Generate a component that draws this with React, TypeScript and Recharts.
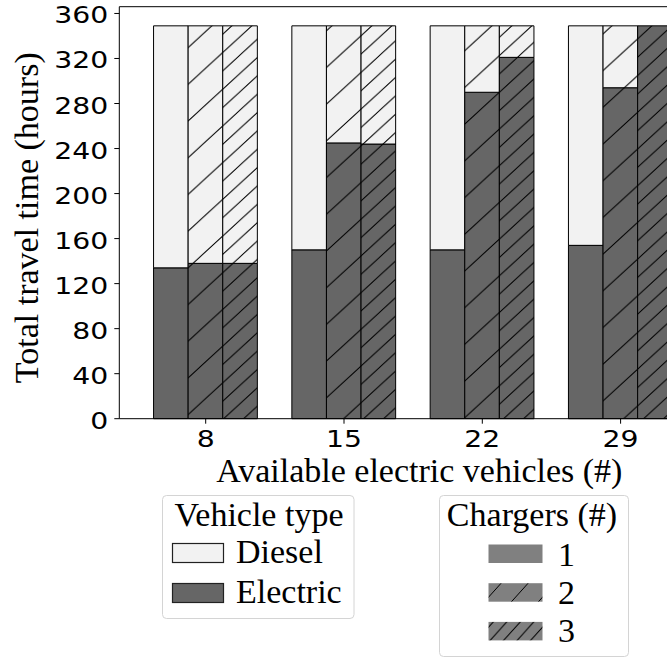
import { BarChart, Bar, XAxis, YAxis, ReferenceLine, Label } from "recharts";

const categories = ["8", "15", "22", "29"];
// electric part of each bar, one list per number of chargers
const electric1 = [134, 150, 150, 154];
const electric2 = [138, 245, 290, 294];
const electric3 = [138, 244, 321, 349];
// diesel part stacked on top
const diesel1 = [215, 199, 199, 195];
const diesel2 = [211, 104, 59, 55];
const diesel3 = [211, 105, 28, 0];
const yTicks = [0, 40, 80, 120, 160, 200, 240, 280, 320, 360];
const vehicleTypes = ["Diesel", "Electric"];
const chargerCounts = ["1", "2", "3"];

const DIESEL = "#f2f2f2";
const ELECTRIC = "#666666";
const PATCH = "#808080";
const SERIF = "'Liberation Serif', 'Times New Roman', serif";
const SANS = "'DejaVu Sans', sans-serif";

const data = categories.map((name, i) => ({
  name,
  e1: electric1[i],
  d1: diesel1[i],
  e2: electric2[i],
  d2: diesel2[i],
  e3: electric3[i],
  d3: diesel3[i],
}));

// diagonal "/" hatch, w = horizontal spacing, h = vertical spacing
function Hatch({ id, bg, w, h }: { id: string; bg: string; w: number; h: number }) {
  return (
    <pattern id={id} patternUnits="userSpaceOnUse" width={w} height={h}>
      <rect width={w} height={h} fill={bg} />
      <path
        d={`M${-w / 2},${h / 2} L${w / 2},${-h / 2} M0,${h} L${w},0 M${w / 2},${h * 1.5} L${w * 1.5},${h / 2}`}
        stroke="#000"
        strokeWidth={1}
      />
    </pattern>
  );
}

function YTick({ x, y, payload }: any) {
  return (
    <g transform={`translate(${x},${y})`}>
      <text x={0} y={0} dy={10} textAnchor="end" transform="scale(1.23,1)" fontFamily={SANS} fontSize={23} fill="#000">
        {payload.value}
      </text>
    </g>
  );
}

function XTick({ x, y, payload }: any) {
  return (
    <g transform={`translate(${x},${y})`}>
      <text x={0} y={0} dy={17} textAnchor="middle" transform="scale(1.23,1)" fontFamily={SANS} fontSize={23} fill="#000">
        {payload.value}
      </text>
    </g>
  );
}

function Legends() {
  const vehicleFill: Record<string, string> = { Diesel: DIESEL, Electric: ELECTRIC };
  const chargerFill: Record<string, string> = { "1": PATCH, "2": "url(#lg-h2)", "3": "url(#lg-h3)" };
  return (
    <svg width={667} height={658} style={{ position: "absolute", left: 0, top: 0, pointerEvents: "none" }}>
      <defs>
        <Hatch id="lg-h2" bg={PATCH} w={27} h={30} />
        <Hatch id="lg-h3" bg={PATCH} w={13.5} h={15} />
      </defs>
      {/* Vehicle type */}
      <rect x={162.5} y={495.5} width={191.5} height={123} rx={4} fill="#fff" stroke="#d4d4d4" strokeWidth={1} />
      <text x={259} y={526} textAnchor="middle" fontFamily={SERIF} fontSize={34}>Vehicle type</text>
      {vehicleTypes.map((v, i) => (
        <g key={v}>
          <rect x={172.5} y={543.5 + 40 * i} width={51} height={19} fill={vehicleFill[v]} stroke="#222" strokeWidth={1.2} />
          <text x={236} y={563 + 40 * i} fontFamily={SERIF} fontSize={34}>{v}</text>
        </g>
      ))}
      {/* Chargers */}
      <rect x={439.5} y={495.5} width={189} height={161} rx={4} fill="#fff" stroke="#d4d4d4" strokeWidth={1} />
      <text x={532} y={526} textAnchor="middle" fontFamily={SERIF} fontSize={34}>Chargers (#)</text>
      {chargerCounts.map((c, i) => (
        <g key={c}>
          <rect x={488.5} y={544.5 + 38.7 * i} width={54} height={18.5} fill={chargerFill[c]} />
          <text x={558} y={566 + 38 * i} fontFamily={SERIF} fontSize={34}>{c}</text>
        </g>
      ))}
    </svg>
  );
}

export default function App() {
  return (
    <div style={{ position: "absolute", left: 0, top: 0, width: 667, height: 658, overflow: "hidden", background: "#fff" }}>
      <BarChart
        width={720}
        height={658}
        data={data}
        margin={{ top: 6.7, right: 13, bottom: 179.3, left: 0 }}
        barGap={0}
        barSize={34.6}
      >
        <defs>
          <Hatch id="h-e-2" bg={ELECTRIC} w={40} h={36.7} />
          <Hatch id="h-d-2" bg={DIESEL} w={40} h={36.7} />
          <Hatch id="h-e-3" bg={ELECTRIC} w={20} h={18.35} />
          <Hatch id="h-d-3" bg={DIESEL} w={20} h={18.35} />
        </defs>
        <XAxis
          dataKey="name"
          height={60}
          padding={{ left: 17.25, right: 17.25 }}
          stroke="#000"
          tickSize={5}
          tickMargin={6}
          tick={<XTick />}
        >
          <Label
            content={(props: any) => {
              const vb = props.viewBox;
              return (
                <text x={vb.x + 300} y={vb.y + 63.5} textAnchor="middle" fontFamily={SERIF} fontSize={34} fill="#000">
                  Available electric vehicles (#)
                </text>
              );
            }}
          />
        </XAxis>
        <YAxis
          width={119.3}
          domain={[0, 366]}
          ticks={yTicks}
          stroke="#000"
          tickSize={5}
          tickMargin={6}
          tick={<YTick />}
        >
          <Label
            content={(props: any) => {
              const vb = props.viewBox;
              const cx = vb.x + 38;
              const cy = vb.y + vb.height / 2 + 5;
              return (
                <text x={cx} y={cy} textAnchor="middle" transform={`rotate(-90, ${cx}, ${cy})`} fontFamily={SERIF} fontSize={34} fill="#000">
                  Total travel time (hours)
                </text>
              );
            }}
          />
        </YAxis>
        <ReferenceLine y={366} stroke="#000" strokeWidth={1} />
        <Bar dataKey="e1" stackId="c1" fill={ELECTRIC} stroke="#000" strokeWidth={1} isAnimationActive={false} />
        <Bar dataKey="d1" stackId="c1" fill={DIESEL} stroke="#000" strokeWidth={1} isAnimationActive={false} />
        <Bar dataKey="e2" stackId="c2" fill="url(#h-e-2)" stroke="#000" strokeWidth={1} isAnimationActive={false} />
        <Bar dataKey="d2" stackId="c2" fill="url(#h-d-2)" stroke="#000" strokeWidth={1} isAnimationActive={false} />
        <Bar dataKey="e3" stackId="c3" fill="url(#h-e-3)" stroke="#000" strokeWidth={1} isAnimationActive={false} />
        <Bar dataKey="d3" stackId="c3" fill="url(#h-d-3)" stroke="#000" strokeWidth={1} isAnimationActive={false} />
      </BarChart>
      <Legends />
    </div>
  );
}
